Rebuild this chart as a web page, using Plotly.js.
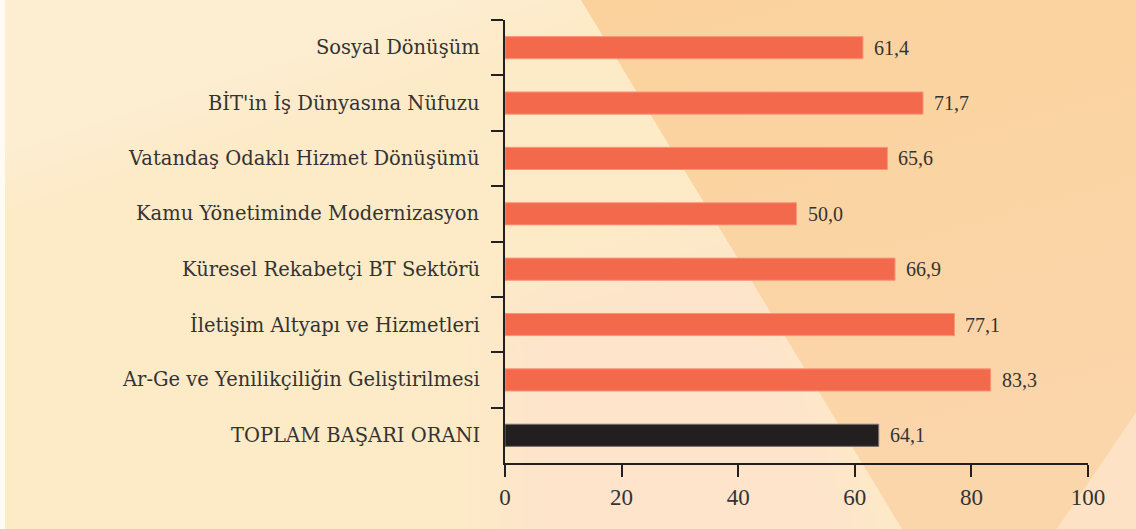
<!DOCTYPE html>
<html>
<head>
<meta charset="utf-8">
<script src="https://cdn.plot.ly/plotly-3.0.1.min.js"></script>
<style>
html,body{margin:0;padding:0;}
#wrap{position:relative;width:1136px;height:529px;overflow:hidden;}
#bg{position:absolute;left:0;top:0;}
#chart{position:absolute;left:0;top:0;width:1136px;height:529px;}
</style>
</head>
<body>
<div id="wrap">
<svg id="bg" width="1136" height="529" xmlns="http://www.w3.org/2000/svg">
  <defs>
    <filter id="b2" x="-20%" y="-20%" width="140%" height="140%"><feGaussianBlur stdDeviation="25"/></filter>
    <linearGradient id="pg" x1="0" y1="0" x2="0.3" y2="1">
      <stop offset="0" stop-color="#fbd29c"/>
      <stop offset="1" stop-color="#fbd6ab"/>
    </linearGradient>
  </defs>
  <rect x="0" y="0" width="1136" height="529" fill="#fdeac7"/>
  <polygon points="-50,-50 700,-50 -50,200" fill="#fdeed2" filter="url(#b2)"/>
  <polygon points="505,600 902,600 760,240 505,300" fill="#fde4ca" filter="url(#b2)"/>
  <polygon points="581,0 1136,0 1136,413 1057,529 902,529" fill="url(#pg)"/>
  <polygon points="1136,413 1057,529 1136,529" fill="#fde2c6"/>
  <rect x="0" y="0" width="5" height="529" fill="#fffaf2"/>
</svg>
<div id="chart"></div>
</div>
<script>
const categories = [
  "Sosyal Dönüşüm",
  "BİT'in İş Dünyasına Nüfuzu",
  "Vatandaş Odaklı Hizmet Dönüşümü",
  "Kamu Yönetiminde Modernizasyon",
  "Küresel Rekabetçi BT Sektörü",
  "İletişim Altyapı ve Hizmetleri",
  "Ar-Ge ve Yenilikçiliğin Geliştirilmesi",
  "TOPLAM BAŞARI ORANI"
];
const values = [61.4, 71.7, 65.6, 50.0, 66.9, 77.1, 83.3, 64.1];
const xTicks = [0, 20, 40, 60, 80, 100];

const orange = "#f26a4b", black = "#231f20";
const barColors = categories.map((c, i) => i === categories.length - 1 ? black : orange);
const lineColors = categories.map((c, i) => i === categories.length - 1 ? "#7d716b" : "#f7957a");

const trace = {
  type: "bar",
  orientation: "h",
  x: values,
  y: categories,
  width: 0.4,
  marker: {color: barColors, line: {color: lineColors, width: 1}},
  hoverinfo: "none"
};

const valueLabels = values.map((v, i) => ({
  x: v, y: categories[i], xref: "x", yref: "y",
  text: v.toFixed(1).replace(".", ","),
  showarrow: false, xanchor: "left", yanchor: "middle", xshift: 9,
  font: {family: "Liberation Serif", size: 20, color: "#333333"}
}));

const catLabels = categories.map(c => ({
  x: 0, y: c, xref: "paper", yref: "y",
  text: c, showarrow: false, xanchor: "right", yanchor: "middle", xshift: -23,
  font: {family: "DejaVu Serif", size: 19.5, color: "#333333"}
}));

const layout = {
  width: 1136, height: 529,
  margin: {l: 505, r: 48, t: 20, b: 66},
  paper_bgcolor: "rgba(0,0,0,0)",
  plot_bgcolor: "rgba(0,0,0,0)",
  showlegend: false,
  xaxis: {
    range: [0, 100], tickvals: xTicks, ticktext: xTicks.map(String),
    showgrid: false, zeroline: false,
    showline: true, linecolor: black, linewidth: 2,
    ticks: "outside", ticklen: 12, tickwidth: 2, tickcolor: black,
    tickfont: {family: "Liberation Serif", size: 23, color: "#333333"},
    fixedrange: true
  },
  yaxis: {
    autorange: "reversed",
    showgrid: false, zeroline: false,
    showline: true, linecolor: black, linewidth: 2,
    ticks: "outside", tickson: "boundaries", ticklen: 12, tickwidth: 2, tickcolor: black,
    showticklabels: false,
    fixedrange: true
  },
  annotations: catLabels.concat(valueLabels)
};

Plotly.newPlot("chart", [trace], layout, {displayModeBar: false, staticPlot: true});
</script>
</body>
</html>
